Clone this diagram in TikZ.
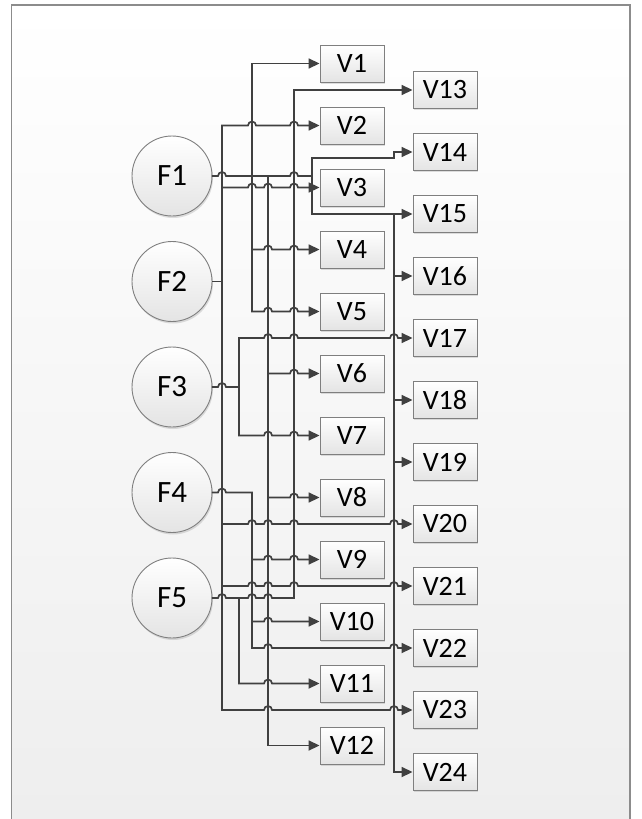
\documentclass[tikz,border=0pt]{standalone}
\usepackage{fontspec}
\setmainfont{Carlito}
\usetikzlibrary{arrows.meta, calc, shadows}
\definecolor{wireGray}{HTML}{404040}
\definecolor{borderGray}{HTML}{7F7F7F}
\definecolor{frameGray}{HTML}{8C8C8C}
\definecolor{fillLow}{HTML}{E4E4E4}
\definecolor{bgLow}{HTML}{EEEEEE}

% hop radius and the two kinds of lines
\newcommand{\hr}{4pt}
\newcommand{\feed}[3]{%
  \draw[wire] (#1.east) \foreach \b in {#3} { -- ($(\b |- #1.east)+(-\hr,0pt)$) arc[start angle=180, end angle=0, radius=\hr] } -- (#2 |- #1.east);
}
\newcommand{\branch}[3]{%
  \draw[wire, ->] (#1 |- #2.west) \foreach \b in {#3} { -- ($(\b |- #2.west)+(-\hr,0pt)$) arc[start angle=180, end angle=0, radius=\hr] } -- (#2.west);
}

\begin{document}
\begin{tikzpicture}[
    x=1pt, y=-1pt,
    >={Triangle[length=11pt, width=10pt]},
    wire/.style={draw=wireGray, line width=1.7pt, line cap=rect},
    vBox/.style={
        draw=borderGray, line width=0.9pt, top color=white, bottom color=fillLow,
        minimum width=64pt, minimum height=37pt, inner sep=0pt,
        font=\fontsize{28}{30}\selectfont,
        drop shadow={opacity=0.25, shadow xshift=1pt, shadow yshift=-1.5pt}
    },
    fCircle/.style={
        circle, draw=borderGray, line width=0.9pt, top color=white, bottom color=fillLow,
        minimum size=80pt, inner sep=0pt,
        font=\fontsize{31}{33}\selectfont,
        drop shadow={opacity=0.25, shadow xshift=1pt, shadow yshift=-2pt}
    }
]
\useasboundingbox (0,0) rectangle (642,819);

% page frame
\fill[top color=white, bottom color=bgLow] (11.5,5) rectangle (630,819);
\draw[frameGray, line width=1.8pt] (11.5,819) -- (11.5,5) -- (630,5) -- (630,819);

\node[fCircle] (F1) at (172,176) {F1};
\node[fCircle] (F2) at (172,281.5) {F2};
\node[fCircle] (F3) at (172,387) {F3};
\node[fCircle] (F4) at (172,492.5) {F4};
\node[fCircle] (F5) at (172,598) {F5};

\node[vBox] (V1) at (352,63.5) {V1};
\node[vBox] (V2) at (352,125.5) {V2};
\node[vBox] (V3) at (352,187.5) {V3};
\node[vBox] (V4) at (352,249.5) {V4};
\node[vBox] (V5) at (352,311.5) {V5};
\node[vBox] (V6) at (352,373.5) {V6};
\node[vBox] (V7) at (352,435.5) {V7};
\node[vBox] (V8) at (352,497.5) {V8};
\node[vBox] (V9) at (352,559.5) {V9};
\node[vBox] (V10) at (352,621.5) {V10};
\node[vBox] (V11) at (352,683.5) {V11};
\node[vBox] (V12) at (352,745.5) {V12};

\node[vBox] (V13) at (445,90) {V13};
\node[vBox] (V14) at (445,152) {V14};
\node[vBox] (V15) at (445,214) {V15};
\node[vBox] (V16) at (445,276) {V16};
\node[vBox] (V17) at (445,338) {V17};
\node[vBox] (V18) at (445,400) {V18};
\node[vBox] (V19) at (445,462) {V19};
\node[vBox] (V20) at (445,524) {V20};
\node[vBox] (V21) at (445,586) {V21};
\node[vBox] (V22) at (445,648) {V22};
\node[vBox] (V23) at (445,710) {V23};
\node[vBox] (V24) at (445,772) {V24};

% vertical lanes
\coordinate (laneA) at (222,0);
\coordinate (laneB) at (239,0);
\coordinate (laneC) at (252,0);
\coordinate (laneD) at (268,0);
\coordinate (laneE) at (294,0);
\coordinate (laneF) at (312,0);
\coordinate (laneG) at (394,0);
\coordinate (jog) at ($(V14.west)+(0,-6pt)$);

\draw[wire] (laneA |- V2.west) -- (laneA |- V23.west);
\draw[wire] (laneC |- V1.west) -- (laneC |- V5.west);
\draw[wire] (laneC |- F4.east) -- (laneC |- V22.west);
\draw[wire] (laneD |- F1.east) -- (laneD |- V12.west);
\draw[wire] (laneE |- V13.west) -- (laneE |- F5.east);
\draw[wire] (laneF |- jog) -- (laneF |- V15.west);
\draw[wire] (laneG |- V15.west) -- (laneG |- V24.west);
\draw[wire] (laneB |- V17.west) -- (laneB |- V7.west);
\draw[wire] (laneB |- F5.east) -- (laneB |- V11.west);

% from the circles
\feed{F1}{laneF}{laneA,laneE}
\draw[wire] (F2.east) -- (laneA |- F2.east);
\feed{F3}{laneB}{laneA}
\feed{F4}{laneC}{laneA}
\feed{F5}{laneE}{laneA,laneC,laneD}

% to the left column
\draw[wire, ->] (laneC |- V1.west) -- (V1.west);
\branch{laneA}{V2}{laneC,laneE}
\branch{laneA}{V3}{laneC,laneD,laneE}
\branch{laneC}{V4}{laneD,laneE}
\branch{laneC}{V5}{laneD,laneE}
\branch{laneD}{V6}{laneE}
\branch{laneB}{V7}{laneD,laneE}
\branch{laneD}{V8}{laneE}
\branch{laneC}{V9}{laneD,laneE}
\branch{laneC}{V10}{laneD}
\branch{laneB}{V11}{laneD}
\draw[wire, ->] (laneD |- V12.west) -- (V12.west);

% to the right column
\draw[wire, ->] (laneE |- V13.west) -- (V13.west);
\draw[wire, ->] (laneF |- jog) -- (laneG |- jog) |- (V14.west);
\draw[wire, ->] (laneF |- V15.west) -- (V15.west);
\draw[wire, ->] (laneG |- V16.west) -- (V16.west);
\branch{laneB}{V17}{laneD,laneE,laneG}
\draw[wire, ->] (laneG |- V18.west) -- (V18.west);
\draw[wire, ->] (laneG |- V19.west) -- (V19.west);
\branch{laneA}{V20}{laneC,laneD,laneE,laneG}
\branch{laneA}{V21}{laneC,laneD,laneE,laneG}
\branch{laneC}{V22}{laneD,laneG}
\branch{laneA}{V23}{laneD,laneG}
\draw[wire, ->] (laneG |- V24.west) -- (V24.west);

\end{tikzpicture}
\end{document}
